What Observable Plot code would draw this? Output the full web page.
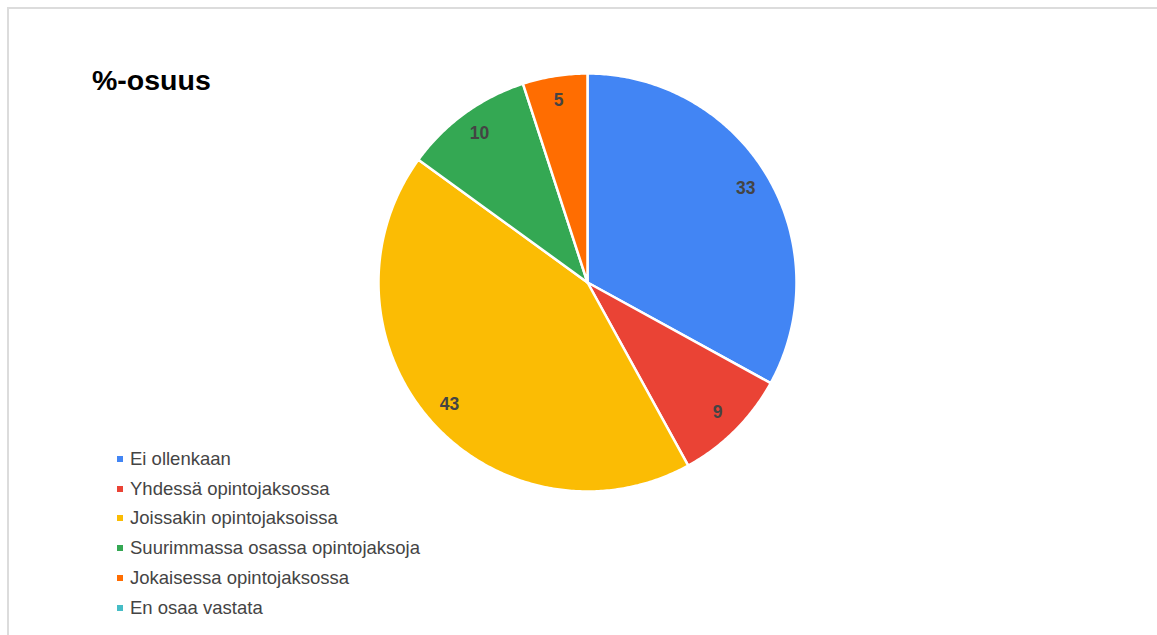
<!DOCTYPE html>
<html>
<head>
<meta charset="utf-8">
<script src="https://cdn.jsdelivr.net/npm/d3@7"></script>
<script src="https://cdn.jsdelivr.net/npm/@observablehq/plot@0.6"></script>
<style>
  html, body { margin: 0; padding: 0; background: #fff; overflow: hidden; }
  #wrap { position: relative; width: 1157px; height: 635px; }
  #frame { position: absolute; left: 7px; top: 7px; width: 1200px; height: 700px; border: 2px solid #dcdcdc; box-sizing: border-box; }
  #title { position: absolute; left: 92px; top: 64px; font-family: "Liberation Sans", Arial, sans-serif; font-weight: bold; font-size: 28.5px; color: #000; }
  #legend { position: absolute; left: 117px; top: 444px; font-family: "Liberation Sans", Arial, sans-serif; font-size: 18.5px; color: #444; }
  #legend .item { height: 29.8px; line-height: 22px; display: flex; align-items: center; white-space: nowrap; }
  #legend .sw { width: 6px; height: 6px; margin-right: 7px; flex: none; }
  #chart { position: absolute; left: 0; top: 0; }
</style>
</head>
<body>
<div id="wrap">
  <div id="frame"></div>
  <div id="chart"></div>
  <div id="title">%-osuus</div>
  <div id="legend"></div>
</div>
<script>
const categories = ["Ei ollenkaan", "Yhdessä opintojaksossa", "Joissakin opintojaksoissa", "Suurimmassa osassa opintojaksoja", "Jokaisessa opintojaksossa", "En osaa vastata"];
const values = [33, 9, 43, 10, 5, 0];
const colors = ["#4285F4", "#EA4335", "#FBBC04", "#34A853", "#FF6D01", "#46BDC6"];

const data = categories.map((c, i) => ({category: c, value: values[i], color: colors[i]}));
const arcs = d3.pie().value(d => d.value).sort(null)(data);

// Build slice outlines in unit coordinates (angle 0 at top, clockwise)
const slicePts = [];
arcs.forEach((a, i) => {
  if (a.endAngle - a.startAngle <= 0) return;
  slicePts.push({k: i, x: 0, y: 0, color: a.data.color});
  const n = Math.max(2, Math.ceil((a.endAngle - a.startAngle) / 0.01));
  for (let j = 0; j <= n; j++) {
    const t = a.startAngle + (a.endAngle - a.startAngle) * j / n;
    slicePts.push({k: i, x: Math.sin(t), y: Math.cos(t), color: a.data.color});
  }
});

const labelR = 0.88;
const labels = arcs.filter(a => a.data.value > 0).map(a => {
  const m = (a.startAngle + a.endAngle) / 2;
  return {x: Math.sin(m) * labelR, y: Math.cos(m) * labelR, text: String(a.data.value)};
});

const cx = 587, cy = 282, R = 209, W = 1157, H = 635;

const chart = Plot.plot({
  width: W,
  height: H,
  marginLeft: cx - R,
  marginRight: W - (cx + R),
  marginTop: cy - R,
  marginBottom: H - (cy + R),
  x: {domain: [-1, 1], axis: null},
  y: {domain: [-1, 1], axis: null},
  style: {background: "transparent"},
  marks: [
    Plot.line(slicePts, {x: "x", y: "y", z: "k", fill: "color", stroke: "#fff", strokeWidth: 2.5, curve: "linear-closed", strokeLinejoin: "round"}),
    Plot.text(labels, {x: "x", y: "y", text: "text", fill: "#444", fontWeight: "bold", fontSize: 17.5, fontFamily: "Liberation Sans, Arial, sans-serif"})
  ]
});
document.getElementById("chart").appendChild(chart);

const legend = document.getElementById("legend");
data.forEach(d => {
  const item = document.createElement("div");
  item.className = "item";
  const sw = document.createElement("span");
  sw.className = "sw";
  sw.style.background = d.color;
  const tx = document.createElement("span");
  tx.textContent = d.category;
  item.appendChild(sw);
  item.appendChild(tx);
  legend.appendChild(item);
});
</script>
</body>
</html>
